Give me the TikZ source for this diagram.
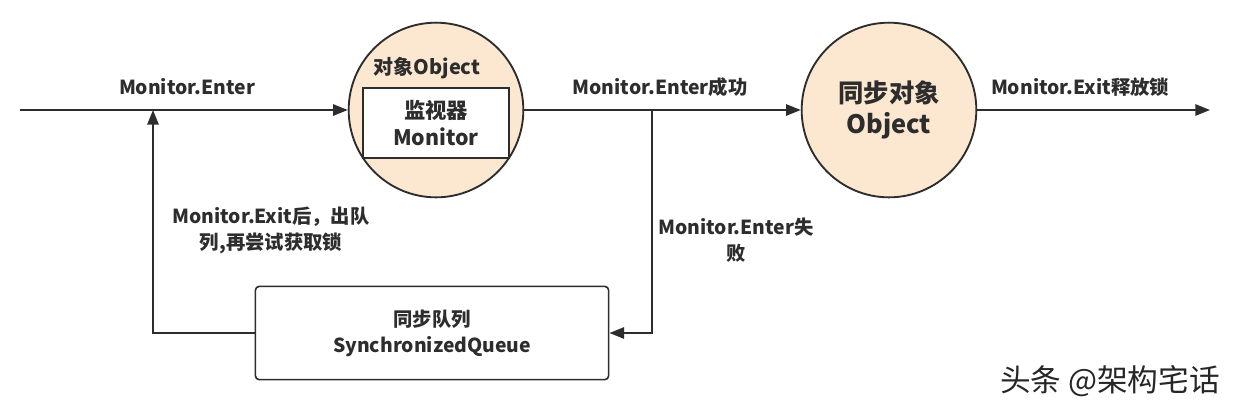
\documentclass[tikz,border=0pt]{standalone}
\usepackage{fontspec}
\setmainfont{Noto Sans CJK SC}
\usetikzlibrary{positioning, arrows.meta}
\definecolor{objPeach}{RGB}{252,231,208}
\definecolor{inkGrey}{RGB}{45,45,45}
\tikzset{
	objcircle/.style={circle, draw=inkGrey, line width=1.4pt, fill=objPeach,
		minimum size=131pt, inner sep=0pt, align=center, text=inkGrey,
		font=\bfseries\fontsize{19}{23}\selectfont},
	monbox/.style={rectangle, draw=inkGrey, line width=1.4pt, fill=white,
		minimum width=110pt, minimum height=52pt, align=center, text=inkGrey,
		font=\bfseries\fontsize{16}{20}\selectfont},
	queuebox/.style={rectangle, draw=inkGrey, line width=1.2pt, rounded corners=3pt,
		fill=white, minimum width=265pt, minimum height=70pt, align=center, text=inkGrey,
		font=\bfseries\fontsize{14.5}{19.5}\selectfont},
	flowarr/.style={-{Triangle[length=11pt, width=8.5pt]}, line width=1.4pt, draw=inkGrey},
	edgelabel/.style={font=\bfseries\fontsize{14.5}{19.5}\selectfont, text=inkGrey,
		align=center, inner sep=0pt}
}

\begin{document}
\begin{tikzpicture}[x=0.75pt, y=-0.75pt]
	\useasboundingbox (0,0) rectangle (1238,412);
	% objects
	\node[objcircle] (obj) at (436,110) {};
	\node[monbox] (mon) at (436,123) {监视器\\Monitor};
	\node[edgelabel, font=\bfseries\fontsize{15}{18}\selectfont] (objlbl) at (427,68) {对象Object};
	\node[objcircle] (sync) at (889,110) {同步对象\\Object};
	\node[queuebox] (queue) at (432,333) {同步队列\\SynchronizedQueue};
	% free ends
	\coordinate (start) at (20,110);
	\coordinate (end) at (1210,110);
	\coordinate (split) at (652,110);
	\coordinate (merge) at (153,110);
	% connectors
	\draw[flowarr] (start) -- (obj);
	\draw[flowarr] (obj) -- (sync);
	\draw[flowarr] (sync) -- (end);
	\draw[flowarr] (split) |- (queue);
	\draw[flowarr] (queue) -| (merge);
	% labels
	\node[edgelabel] (lblenter) at (187,87) {Monitor.Enter};
	\node[edgelabel] (lblok) at (660,87) {Monitor.Enter成功};
	\node[edgelabel] (lblexit) at (1080,87) {Monitor.Exit释放锁};
	\node[edgelabel] (lblretry) at (271,230) {Monitor.Exit后，出队\\列,再尝试获取锁};
	\node[edgelabel] (lblfail) at (736,240) {Monitor.Enter失\\败};
	\node[font=\fontsize{23}{27}\selectfont, text=black!85] (mark) at (1110,381) {头条 @架构宅话};
\end{tikzpicture}
\end{document}
